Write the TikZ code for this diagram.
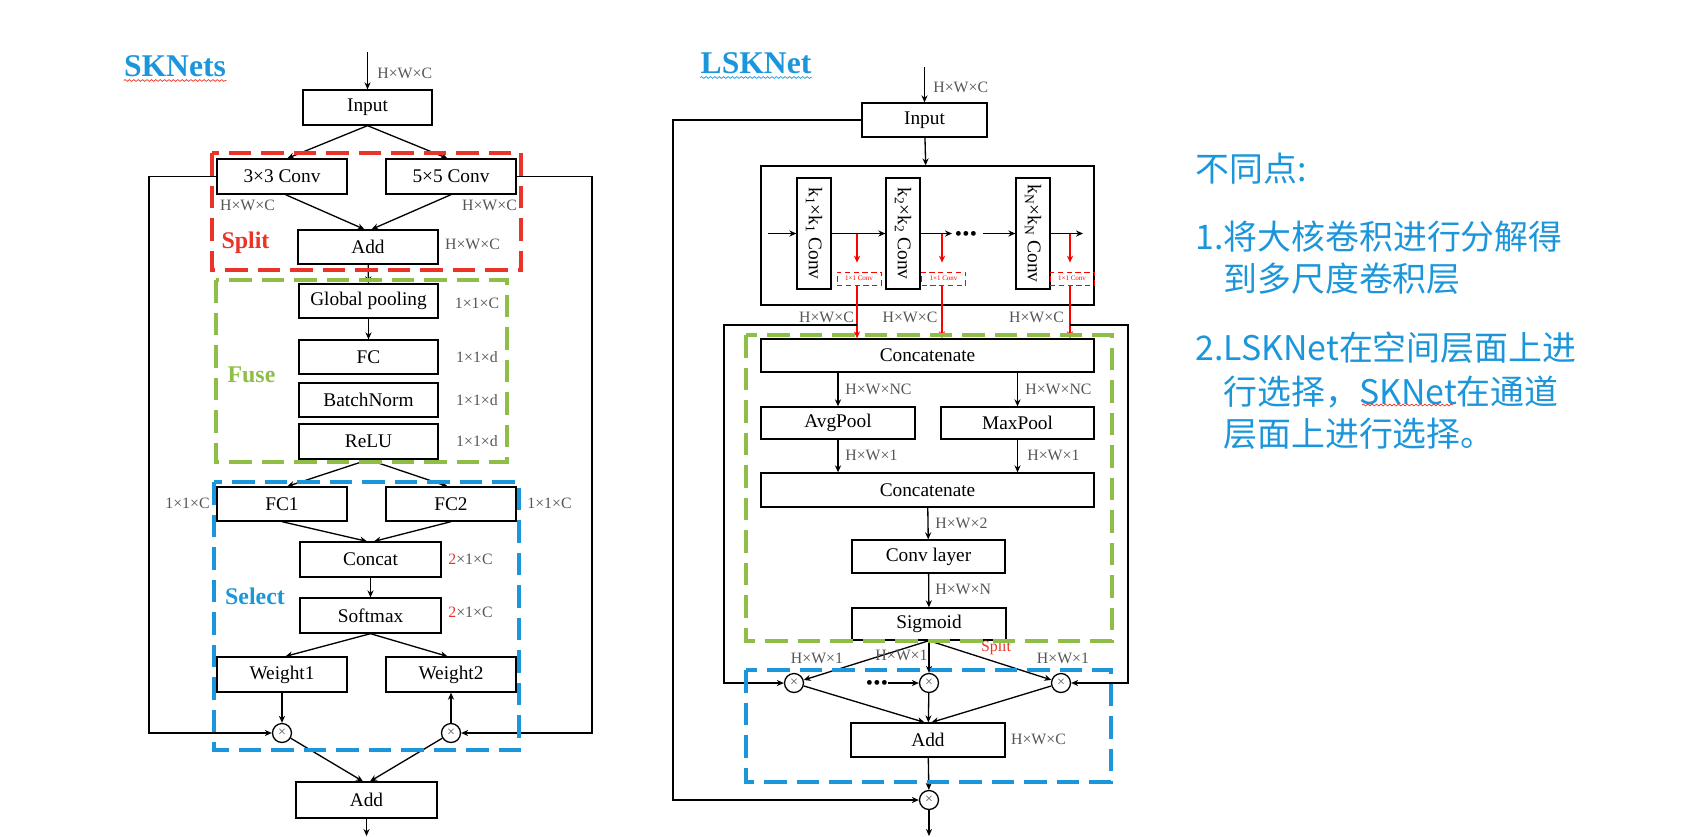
\documentclass[tikz,border=0pt]{standalone}
\usepackage{fontspec}
\setmainfont{Liberation Serif}
\newfontfamily\cjk{Noto Sans CJK SC}
\usepackage{graphicx}
\usepackage{tikz}
\usetikzlibrary{arrows.meta, calc, decorations.pathmorphing}

\definecolor{skblue}{RGB}{28,150,218}
\definecolor{skred}{RGB}{234,52,40}
\definecolor{skgreen}{RGB}{142,190,72}
\definecolor{dimgray}{RGB}{85,85,85}

\tikzset{
  box/.style={draw, line width=0.75pt, inner sep=0pt, font=\fontsize{11}{13}\selectfont},
  wh/.style 2 args={minimum width=#1*0.02cm, minimum height=#2*0.02cm},
  dim/.style={text=dimgray, inner sep=0pt, font=\fontsize{9}{10}\selectfont},
  arr/.style={-{Stealth[length=4pt,width=3.5pt]}, line width=0.75pt},
  rarr/.style={arr, red, line width=0.6pt},
  mul/.style={draw, circle, line width=0.75pt, minimum size=0.38cm, inner sep=0pt,
    text=dimgray, font=\fontsize{8}{8}\selectfont},
  dots/.style={inner sep=0pt, font=\fontsize{6}{6}\selectfont},
  tag/.style={font=\bfseries\fontsize{13.6}{15}\selectfont, inner sep=0pt},
  title/.style={text=skblue, font=\bfseries\fontsize{18}{20}\selectfont, inner sep=0pt},
  region/.style={dash pattern=on 13pt off 5.5pt, line width=1.8pt},
  wavy/.style={decorate, decoration={snake, amplitude=0.5pt, segment length=2.5pt}, line width=0.4pt},
  onebyone/.style={draw=red, densely dashed, line width=0.4pt, text=red, inner sep=0.5pt,
    font=\fontsize{4}{4}\selectfont, wh={44}{13}},
  note/.style={anchor=west, inner sep=0pt, text=skblue, font=\cjk\fontsize{19.3}{22}\selectfont}
}

\begin{document}
\begin{tikzpicture}[x=0.02cm, y=-0.02cm]
    \useasboundingbox (0,0) rectangle (1692,836);

    % SKNets
    \node[title] (sktitle) at (175,66) {SKNets};
    \draw[skred, wavy] ([yshift=-2pt]sktitle.south west) -- ([yshift=-2pt]sktitle.south east);
    \coordinate (skin) at (367.5,52);
    \node[box, wh={129}{35}] (inA) at (367.5,107.5) {Input};
    \node[box, wh={130}{35}] (c3) at (282,176.5) {3×3 Conv};
    \node[box, wh={130}{35}] (c5) at (451,176.5) {5×5 Conv};
    \node[box, wh={140}{34}] (addA) at (368,247) {Add};
    \node[box, wh={139}{34}] (gp) at (368.5,301) {Global pooling};
    \node[box, wh={139}{34}] (fc) at (368.5,357) {FC};
    \node[box, wh={139}{34}] (bn) at (368.5,400) {BatchNorm};
    \node[box, wh={139}{35}] (relu) at (368.5,441.5) {ReLU};
    \node[box, wh={130}{34}] (fc1) at (282,504) {FC1};
    \node[box, wh={130}{34}] (fc2) at (451,504) {FC2};
    \node[box, wh={141}{35}] (cat) at (370.5,559.5) {Concat};
    \node[box, wh={141}{35}] (soft) at (370.5,615.5) {Softmax};
    \node[box, wh={130}{35}] (w1) at (282,674.5) {Weight1};
    \node[box, wh={130}{35}] (w2) at (451,674.5) {Weight2};
    \node[mul] (mA) at (282,733) {×};
    \node[mul] (mB) at (451,733) {×};
    \node[box, wh={141}{36}] (addB) at (366.5,800) {Add};
    \coordinate (skout) at (366.5,836);

    \draw[arr] (skin) -- (inA);
    \draw[arr] (inA.south) -- ([xshift=3pt]c3.north);
    \draw[arr] (inA.south) -- ([xshift=-2pt]c5.north);
    \draw[arr] ([xshift=2pt]c3.south) -- ([xshift=-2pt]addA.north);
    \draw[arr] (c5.south) -- ([xshift=2pt]addA.north);
    \draw[arr] (addA) -- (gp);
    \draw[arr] (gp) -- (fc);
    \draw[arr] (relu.south) -- ([xshift=3pt]fc1.north);
    \draw[arr] (relu.south) -- ([xshift=-2pt]fc2.north);
    \draw[arr] (fc1.south) -- ([xshift=-2pt]cat.north);
    \draw[arr] (fc2.south) -- ([xshift=2pt]cat.north);
    \draw[arr] (cat) -- (soft);
    \draw[arr] (soft.south) -- ([xshift=2pt]w1.north);
    \draw[arr] (soft.south) -- ([xshift=-2pt]w2.north);
    \draw[arr] (w1) -- (mA);
    \draw[arr] (mB) -- (w2);
    \draw[arr] (c3.west) -- (149,176.5) |- (mA.west);
    \draw[arr] (c5.east) -- (592,176.5) |- (mB.east);
    \draw[arr] (mA) -- ([xshift=-2pt]addB.north);
    \draw[arr] (mB) -- ([xshift=2pt]addB.north);
    \draw[arr] (addB) -- (skout);

    \node[dim, anchor=west] at (377,73) {H×W×C};
    \node[dim] at (247.5,205) {H×W×C};
    \node[dim] at (489.5,205) {H×W×C};
    \node[dim] at (472.5,244) {H×W×C};
    \node[dim] at (477,303) {1×1×C};
    \node[dim] at (477,357) {1×1×d};
    \node[dim] at (477,400) {1×1×d};
    \node[dim] at (477,441) {1×1×d};
    \node[dim] at (187.5,503) {1×1×C};
    \node[dim, anchor=west] at (527,503) {1×1×C};
    \node[dim] at (470.5,559) {\textcolor{skred}{2}×1×C};
    \node[dim] at (470.5,612) {\textcolor{skred}{2}×1×C};
    \node[tag, text=skred] at (245.5,243) {Split};
    \node[tag, text=skgreen] at (251.5,375) {Fuse};
    \node[tag, text=skblue] at (255,596) {Select};

    \draw[region, skred] (212,153) rectangle (521,270);
    \draw[region, skgreen] (216,280) rectangle (507,462);
    \draw[region, skblue] (214,482) rectangle (519,750);

    % LSKNet
    \node[title] (lstitle) at (756,63) {LSKNet};
    \draw[skblue, wavy] ([yshift=-2pt]lstitle.south west) -- ([yshift=-2pt]lstitle.south east);
    \coordinate (lsin) at (924.5,67);
    \node[box, wh={125}{34}] (inB) at (924.5,120) {Input};
    \node[box, wh={333}{139}] (kbox) at (927.5,235.5) {};
    \draw[arr] (lsin) -- (inB);
    \draw[arr] (inB) -- (kbox);
    \node[dim, anchor=west] at (933,87) {H×W×C};

    \node[box, wh={34}{111}] (k1) at (814,233.5) {\rotatebox{-90}{k\textsubscript{1}×k\textsubscript{1} Conv}};
    \node[box, wh={34}{111}] (k2) at (903,233.5) {\rotatebox{-90}{k\textsubscript{2}×k\textsubscript{2} Conv}};
    \node[box, wh={34}{111}] (kN) at (1033,233.5) {\rotatebox{-90}{k\textsubscript{N}×k\textsubscript{N} Conv}};
    \coordinate (kin) at (768,233.5);
    \coordinate (k2out) at (952,233.5);
    \node[dots] (kdots) at (966,233.5) {$\bullet\!\bullet\!\bullet$};
    \coordinate (kNin) at (983,233.5);
    \coordinate (kout) at (1083,233.5);
    \draw[arr] (kin) -- (k1);
    \draw[arr] (k1) -- (k2);
    \draw[arr] (k2) -- (k2out);
    \draw[arr] (kNin) -- (kN);
    \draw[arr] (kN) -- (kout);

    \coordinate (t1) at (857,233.5);
    \coordinate (t2) at (942,233.5);
    \coordinate (t3) at (1070,233.5);
    \node[onebyone] (p1) at (859,278.5) {1×1 Conv};
    \node[onebyone] (p2) at (943.5,278.5) {1×1 Conv};
    \node[onebyone] (p3) at (1072,278.5) {1×1 Conv};

    \node[box, wh={333}{33}] (cat1) at (927.5,355.5) {Concatenate};
    \node[box, wh={154}{32}] (avg) at (838,423) {AvgPool};
    \node[box, wh={153}{32}] (mx) at (1017.5,423) {MaxPool};
    \node[box, wh={333}{34}] (cat2) at (927.5,490) {Concatenate};
    \node[box, wh={153}{33}] (cl) at (928.5,556.5) {Conv layer};
    \node[box, wh={154}{32}] (sig) at (929,624) {Sigmoid};

    \foreach \t/\p in {t1/p1, t2/p2, t3/p3} {
        \draw[rarr] (\t) -- ($(\t |- \p.north)+(0,-9)$);
        \draw[rarr] (\p.south -| \t) -- (\t |- cat1.north);
    }
    \node[dim] at (826.5,317) {H×W×C};
    \node[dim] at (910,317) {H×W×C};
    \node[dim] at (1036.5,317) {H×W×C};

    \draw[arr] (avg.north |- cat1.south) -- (avg.north);
    \draw[arr] (mx.north |- cat1.south) -- (mx.north);
    \draw[arr] (avg.south) -- (avg.south |- cat2.north);
    \draw[arr] (mx.south) -- (mx.south |- cat2.north);
    \draw[arr] (cat2) -- (cl);
    \draw[arr] (cl) -- (sig);
    \node[dim, anchor=west] at (845,389) {H×W×NC};
    \node[dim, anchor=west] at (1025,389) {H×W×NC};
    \node[dim, anchor=west] at (845,455) {H×W×1};
    \node[dim, anchor=west] at (1027,455) {H×W×1};
    \node[dim, anchor=west] at (935,523) {H×W×2};
    \node[dim, anchor=west] at (935,589) {H×W×N};

    \node[mul] (m1) at (794,683) {×};
    \node[mul] (m2) at (929,683) {×};
    \node[mul] (m3) at (1061,683) {×};
    \node[mul] (m4) at (929,800) {×};
    \node[box, wh={154}{34}] (addC) at (928,740) {Add};
    \node[dots] (mdots) at (877,683) {$\bullet\!\bullet\!\bullet$};
    \coordinate (j1) at (857,325);
    \coordinate (j3) at (1070,325);
    \coordinate (lsout) at (929,836);

    \draw[arr] (sig.south) -- (m1);
    \draw[arr] (sig.south) -- (m2);
    \draw[arr] (sig.south) -- (m3);
    \draw[arr] (mdots) -- (m2);
    \draw[arr] (j1) -- (724,325) |- (m1.west);
    \draw[arr] (j3) -- (1128,325) |- (m3.east);
    \draw[arr] (m1) -- ([xshift=-2pt]addC.north);
    \draw[arr] (m2) -- (addC);
    \draw[arr] (m3) -- ([xshift=2pt]addC.north);
    \draw[arr] (addC) -- (m4);
    \draw[arr] (inB.west) -- (673,120) |- (m4.west);
    \draw[arr] (m4) -- (lsout);

    \node[dim] at (817,658) {H×W×1};
    \node[dim] at (901.5,655) {H×W×1};
    \node[dim] at (1063,658) {H×W×1};
    \node[dim, text=skred] at (996,648) {Split};
    \node[dim] at (1038.5,739) {H×W×C};

    \draw[region, skgreen] (746,335) rectangle (1112,641);
    \draw[region, skblue] (746,670) rectangle (1111,782);

    % notes
    \node[note] at (1195,169) {不同点:};
    \node[note] at (1195,237) {1.将大核卷积进行分解得};
    \node[note] at (1223,279) {到多尺度卷积层};
    \node[note] at (1195,348) {2.LSKNet在空间层面上进};
    \node[note] (sel) at (1223,392) {行选择，SKNet在通道};
    \node[note] at (1223,434) {层面上进行选择。};
    \draw[skred, wavy] (1362,405) -- (1453,405);
\end{tikzpicture}
\end{document}
